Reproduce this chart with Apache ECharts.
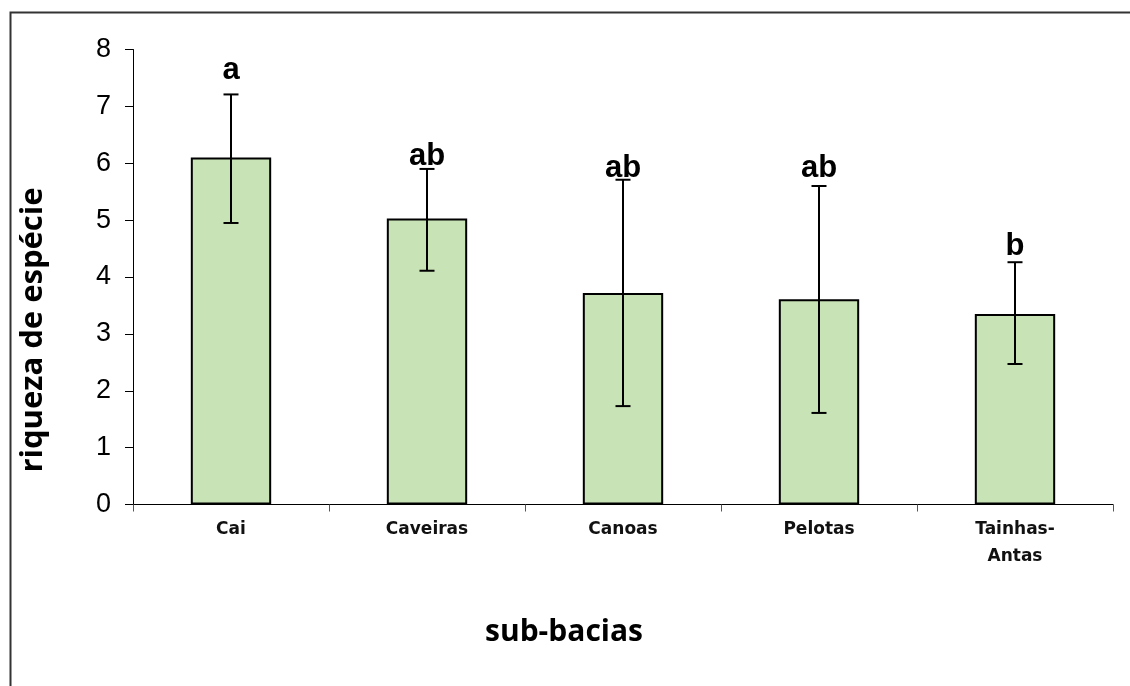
<!DOCTYPE html>
<html>
<head>
<meta charset="utf-8">
<script src="https://cdn.jsdelivr.net/npm/echarts@6/dist/echarts.min.js"></script>
<style>
  html, body { margin: 0; padding: 0; background: #ffffff; }
  #chart { width: 1130px; height: 686px; }
</style>
</head>
<body>
<div id="chart"></div>
<script>
// Riqueza média de espécies por sub-bacia, com barras de erro e letras de grupo
const subBacias = ['Cai', 'Caveiras', 'Canoas', 'Pelotas', 'Tainhas-\nAntas'];
const riquezaMedia = [6.10, 5.03, 3.72, 3.61, 3.35];
const erroSuperior = [7.21, 5.90, 5.71, 5.60, 4.26];
const erroInferior = [4.95, 4.11, 1.73, 1.61, 2.47];
const letrasGrupo = ['a', 'ab', 'ab', 'ab', 'b'];
const alturaLetras = [7.48, 5.97, 5.76, 5.76, 4.39];
const yTicks = [0, 1, 2, 3, 4, 5, 6, 7, 8];

const chart = echarts.init(document.getElementById('chart'), null, { renderer: 'canvas' });

const errorData = subBacias.map((c, i) => [i, erroInferior[i], erroSuperior[i]]);
const letterData = subBacias.map((c, i) => [i, alturaLetras[i], letrasGrupo[i]]);

chart.setOption({
  animation: false,
  backgroundColor: '#ffffff',
  grid: { left: 133, right: 17, top: 49.5, bottom: 181.5, containLabel: false },
  xAxis: {
    type: 'category',
    data: subBacias,
    boundaryGap: true,
    axisLine: { lineStyle: { color: '#000000', width: 1 } },
    axisTick: { show: true, length: 7, inside: false, alignWithLabel: false, lineStyle: { color: '#555555', width: 1 } },
    axisLabel: {
      margin: 12,
      color: '#111111',
      fontFamily: 'DejaVu Sans',
      fontWeight: 'bold',
      fontSize: 17,
      lineHeight: 27,
      interval: 0
    },
    splitLine: { show: false }
  },
  yAxis: {
    type: 'value',
    min: yTicks[0],
    max: yTicks[yTicks.length - 1],
    interval: 1,
    axisLine: { show: true, lineStyle: { color: '#000000', width: 1 } },
    axisTick: { show: true, length: 8, inside: false, lineStyle: { color: '#000000', width: 1 } },
    axisLabel: {
      margin: 22,
      color: '#000000',
      fontFamily: 'Liberation Sans',
      fontSize: 27
    },
    splitLine: { show: false }
  },
  graphic: [
    {
      type: 'rect',
      left: 8, top: 10,
      shape: { width: 1300, height: 900 },
      style: { fill: 'none', stroke: '#333333', lineWidth: 2 },
      silent: true
    },
    {
      type: 'text',
      x: 564, y: 632,
      style: {
        text: 'sub-bacias',
        fill: '#000000',
        font: 'bold 30px "Open Sans"',
        textAlign: 'center',
        textVerticalAlign: 'middle'
      }
    },
    {
      type: 'text',
      x: 33, y: 330,
      rotation: Math.PI / 2,
      style: {
        text: 'riqueza de espécie',
        fill: '#000000',
        font: 'bold 31px "Open Sans"',
        textAlign: 'center',
        textVerticalAlign: 'middle'
      }
    }
  ],
  series: [
    {
      type: 'bar',
      data: riquezaMedia,
      barWidth: '41%',
      itemStyle: { color: '#c8e3b6', borderColor: '#000000', borderWidth: 2 },
      z: 2
    },
    {
      type: 'custom',
      data: errorData,
      z: 5,
      renderItem: function (params, api) {
        const x = api.value(0);
        const lo = api.coord([x, api.value(1)]);
        const hi = api.coord([x, api.value(2)]);
        const half = 7.5;
        const style = { stroke: '#000000', lineWidth: 2 };
        return {
          type: 'group',
          children: [
            { type: 'line', shape: { x1: lo[0], y1: lo[1], x2: hi[0], y2: hi[1] }, style: style },
            { type: 'line', shape: { x1: hi[0] - half, y1: hi[1], x2: hi[0] + half, y2: hi[1] }, style: style },
            { type: 'line', shape: { x1: lo[0] - half, y1: lo[1], x2: lo[0] + half, y2: lo[1] }, style: style }
          ]
        };
      }
    },
    {
      type: 'custom',
      data: letterData,
      z: 6,
      renderItem: function (params, api) {
        const p = api.coord([api.value(0), api.value(1)]);
        return {
          type: 'text',
          x: p[0],
          y: p[1] + 7,
          style: {
            text: letrasGrupo[params.dataIndex],
            fill: '#000000',
            font: 'bold 31px "Liberation Sans"',
            textAlign: 'center',
            textVerticalAlign: 'bottom'
          }
        };
      }
    }
  ]
});
</script>
</body>
</html>
